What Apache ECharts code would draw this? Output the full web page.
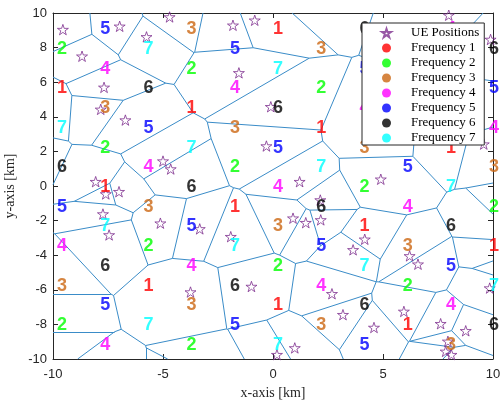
<!DOCTYPE html>
<html>
<head>
<meta charset="utf-8">
<script src="https://cdn.jsdelivr.net/npm/echarts@6/dist/echarts.min.js"></script>
<style>
  html, body { margin: 0; padding: 0; background: #ffffff; }
  #chart { width: 502px; height: 400px; }
</style>
</head>
<body>
<div id="chart"></div>
<script>
// UE positions [km]. The last entries lie under the legend or just outside the axes.
const ueX = [-9.55, -6.97, -8.68, -5.75, -4.70, -7.68, -7.83, -6.71, -1.82, -0.83,
             -1.55, -0.10, 7.99, 9.89, -5.00, -4.65, -8.06, -7.60, -7.00, -7.73,
             -7.45, -5.12, -3.33, -0.30, 1.21, 2.15, 0.91, 1.49, 2.17, -1.92,
             4.90, 4.17, 3.64, 6.21, 6.59, -3.75, -0.98, 2.68, 3.18, 0.99,
             0.18, 5.95, 4.59, 7.62, 8.76, 9.85, 7.95, 7.85, 8.11, 9.58,
             1.53, 9.03, 4.81, 8.05, -10.54, -11.36, -10.60, -10.60, -10.60, -8.49,
             -2.50, 10.62, 10.28, 10.15, 10.41, -3.05];
const ueY = [9.04, 9.23, 7.50, 8.62, 9.77, 5.70, 4.43, 3.81, 9.29, 9.58,
             6.54, 4.58, 9.87, 8.47, 1.44, 0.98, 0.25, -0.46, -0.33, -1.62,
             -2.83, -2.15, -2.48, 2.31, 0.25, -0.81, -1.86, -2.12, -1.96, -2.93,
             0.39, -3.08, -3.69, -4.04, -4.52, -6.13, -5.81, -6.23, -7.44, -9.36,
             -9.75, -7.25, -8.18, -7.96, -8.37, -5.90, -8.98, -9.56, -9.75, 2.42,
             11.62, 3.87, 2.94, 2.73, 4.59, 1.47, -5.14, -7.35, -9.50, -11.75,
             -10.92, -2.03, -2.31, -3.92, -4.49, -11.75];

// Base-station label grid [km]: columns and rows of the staggered layout
const colX = [-9.59, -7.63, -5.66, -3.70, -1.73, 0.23, 2.19, 4.16, 6.12, 8.09, 10.05];
const rowY = [9.06, 7.92, 6.78, 5.64, 4.50, 3.36, 2.22, 1.08, -0.06, -1.20,
              -2.34, -3.48, -4.62, -5.76, -6.90, -8.03, -9.17];
// Frequency index of every base station, row by row
// (even rows use the odd columns, odd rows use the even columns)
const rowFreq = [
  [5, 3, 1, 6, 4],
  [2, 7, 5, 3, 1, 6],
  [4, 2, 7, 5, 3],
  [1, 6, 4, 2, 7, 5],
  [3, 1, 6, 4, 2],
  [7, 5, 3, 1, 6, 4],
  [2, 7, 5, 3, 1],
  [6, 4, 2, 7, 5, 3],
  [1, 6, 4, 2, 7],
  [5, 3, 1, 6, 4, 2],
  [7, 5, 3, 1, 6],
  [4, 2, 7, 5, 3, 1],
  [6, 4, 2, 7, 5],
  [3, 1, 6, 4, 2, 7],
  [5, 3, 1, 6, 4],
  [2, 7, 5, 3, 1, 6],
  [4, 2, 7, 5, 3]
];
const freqNames = ['Frequency 1', 'Frequency 2', 'Frequency 3', 'Frequency 4',
                   'Frequency 5', 'Frequency 6', 'Frequency 7'];
const freqColors = ['#ff0000', '#00ff00', '#cc6611', '#ff00ff', '#0000ff', '#000000', '#00ffff'];
const xTicks = [-10, -5, 0, 5, 10];
const yTicks = [-10, -8, -6, -4, -2, 0, 2, 4, 6, 8, 10];

// ---- Voronoi diagram of the UE positions (half-plane clipping) ----
const BIG = 60;
function clipHalf(poly, s, t) {
  const nx = t[0] - s[0], ny = t[1] - s[1];
  const mx = (s[0] + t[0]) / 2, my = (s[1] + t[1]) / 2;
  const f = p => (p[0] - mx) * nx + (p[1] - my) * ny;
  const out = [];
  for (let i = 0; i < poly.length; i++) {
    const a = poly[i], b = poly[(i + 1) % poly.length];
    const fa = f(a), fb = f(b);
    if (fa <= 0) out.push(a);
    if ((fa <= 0) !== (fb <= 0)) {
      const u = fa / (fa - fb);
      out.push([a[0] + u * (b[0] - a[0]), a[1] + u * (b[1] - a[1])]);
    }
  }
  return out;
}
const sites = ueX.map((x, i) => [x, ueY[i]]);
const edgeMap = new Map();
sites.forEach((s, i) => {
  let poly = [[-BIG, -BIG], [BIG, -BIG], [BIG, BIG], [-BIG, BIG]];
  sites.forEach((t, j) => { if (i !== j && poly.length) poly = clipHalf(poly, s, t); });
  for (let k = 0; k < poly.length; k++) {
    const a = poly[k], b = poly[(k + 1) % poly.length];
    const onBox = p => Math.abs(Math.abs(p[0]) - BIG) < 1e-6 || Math.abs(Math.abs(p[1]) - BIG) < 1e-6;
    if (onBox(a) && onBox(b)) continue;
    const ka = a[0].toFixed(4) + ',' + a[1].toFixed(4);
    const kb = b[0].toFixed(4) + ',' + b[1].toFixed(4);
    const key = ka < kb ? ka + '|' + kb : kb + '|' + ka;
    if (!edgeMap.has(key)) edgeMap.set(key, [a, b]);
  }
});
// clip each edge to the plotted square
function clipSeg(a, b, lo, hi) {
  let t0 = 0, t1 = 1;
  const dx = b[0] - a[0], dy = b[1] - a[1];
  const p = [-dx, dx, -dy, dy];
  const q = [a[0] - lo, hi - a[0], a[1] - lo, hi - a[1]];
  for (let i = 0; i < 4; i++) {
    if (p[i] === 0) { if (q[i] < 0) return null; continue; }
    const r = q[i] / p[i];
    if (p[i] < 0) { if (r > t1) return null; if (r > t0) t0 = r; }
    else { if (r < t0) return null; if (r < t1) t1 = r; }
  }
  return [[a[0] + t0 * dx, a[1] + t0 * dy], [a[0] + t1 * dx, a[1] + t1 * dy]];
}
const voronoiLines = [];
edgeMap.forEach(([a, b]) => {
  const c = clipSeg(a, b, -10, 10);
  if (c) voronoiLines.push({ coords: c });
});

// ---- marker shapes ----
function starPath() {
  const pts = [];
  for (let k = 0; k < 10; k++) {
    const ang = (-90 + 36 * k) * Math.PI / 180;
    const r = k % 2 === 0 ? 50 : 19.1;
    pts.push((50 + r * Math.cos(ang)).toFixed(2) + ' ' + (50 + r * Math.sin(ang)).toFixed(2));
  }
  return 'path://M' + pts.join(' L') + ' Z';
}
const STAR = starPath();

// ---- base-station labels grouped by frequency ----
const labelData = freqNames.map(() => []);
rowFreq.forEach((row, j) => {
  const cols = j % 2 === 0 ? [1, 3, 5, 7, 9] : [0, 2, 4, 6, 8, 10];
  row.forEach((f, k) => labelData[f - 1].push([colX[cols[k]], rowY[j]]));
});

const serif = "'Liberation Serif', 'DejaVu Serif', serif";
const sans = "'Liberation Sans', Arial, sans-serif";
const axisCol = '#262626';

const chart = echarts.init(document.getElementById('chart'), null, { renderer: 'canvas' });

const series = [
  {
    name: 'cells', type: 'lines', coordinateSystem: 'cartesian2d',
    polyline: false, silent: true, z: 1,
    lineStyle: { color: '#3a8cc8', width: 1, opacity: 1 },
    data: voronoiLines
  },
  {
    name: 'UE Positions', type: 'scatter', z: 3,
    symbol: STAR, symbolSize: 11, symbolKeepAspect: true,
    itemStyle: { color: 'rgba(0,0,0,0)', borderColor: '#7e2f8e', borderWidth: 1 },
    data: sites
  }
];
freqNames.forEach((name, i) => {
  series.push({
    name: name, type: 'scatter', z: 4, clip: false,
    symbol: 'circle', symbolSize: 0,
    itemStyle: { color: freqColors[i] },
    label: {
      show: true, position: 'inside', formatter: String(i + 1),
      color: freqColors[i], fontFamily: sans, fontWeight: 'bold', fontSize: 18
    },
    data: labelData[i]
  });
});

const baseAxis = {
  type: 'value', min: -10, max: 10,
  splitLine: { show: false },
  axisLine: { show: true, onZero: false, lineStyle: { color: axisCol, width: 1 } },
  axisTick: { show: true, inside: true, length: 5, lineStyle: { color: axisCol } }
};

chart.setOption({
  animation: false,
  backgroundColor: '#ffffff',
  grid: { left: 53, right: 9, top: 13, bottom: 41, containLabel: false, outerBoundsMode: 'none' },
  xAxis: [
    Object.assign({}, baseAxis, {
      interval: 5, position: 'bottom',
      axisLabel: { color: axisCol, fontFamily: sans, fontSize: 13, margin: 9,
                   customValues: xTicks },
      name: 'x-axis [km]', nameLocation: 'middle', nameGap: 26,
      nameTextStyle: { fontFamily: serif, fontSize: 14, color: axisCol }
    }),
    Object.assign({}, baseAxis, { interval: 5, position: 'top', axisLabel: { show: false } })
  ],
  yAxis: [
    Object.assign({}, baseAxis, {
      interval: 2, position: 'left',
      axisLabel: { color: axisCol, fontFamily: sans, fontSize: 13, margin: 6,
                   customValues: yTicks },
      name: 'y-axis [km]', nameLocation: 'middle', nameGap: 24,
      nameTextStyle: { fontFamily: serif, fontSize: 14, color: axisCol }
    }),
    Object.assign({}, baseAxis, { interval: 2, position: 'right', axisLabel: { show: false } })
  ],
  legend: {
    orient: 'vertical', left: 362, top: 23, z: 50,
    padding: [3, 5, 0, 19], itemGap: 1,
    itemWidth: 9, itemHeight: 9,
    backgroundColor: '#ffffff', borderColor: axisCol, borderWidth: 1, borderRadius: 0,
    textStyle: { fontFamily: serif, fontSize: 13, color: '#000000', lineHeight: 14,
                 padding: [0, 0, 0, 15] },
    data: [{ name: 'UE Positions', icon: STAR }].concat(
      freqNames.map(n => ({ name: n, icon: 'circle' })))
  },
  series: series
});
</script>
</body>
</html>
